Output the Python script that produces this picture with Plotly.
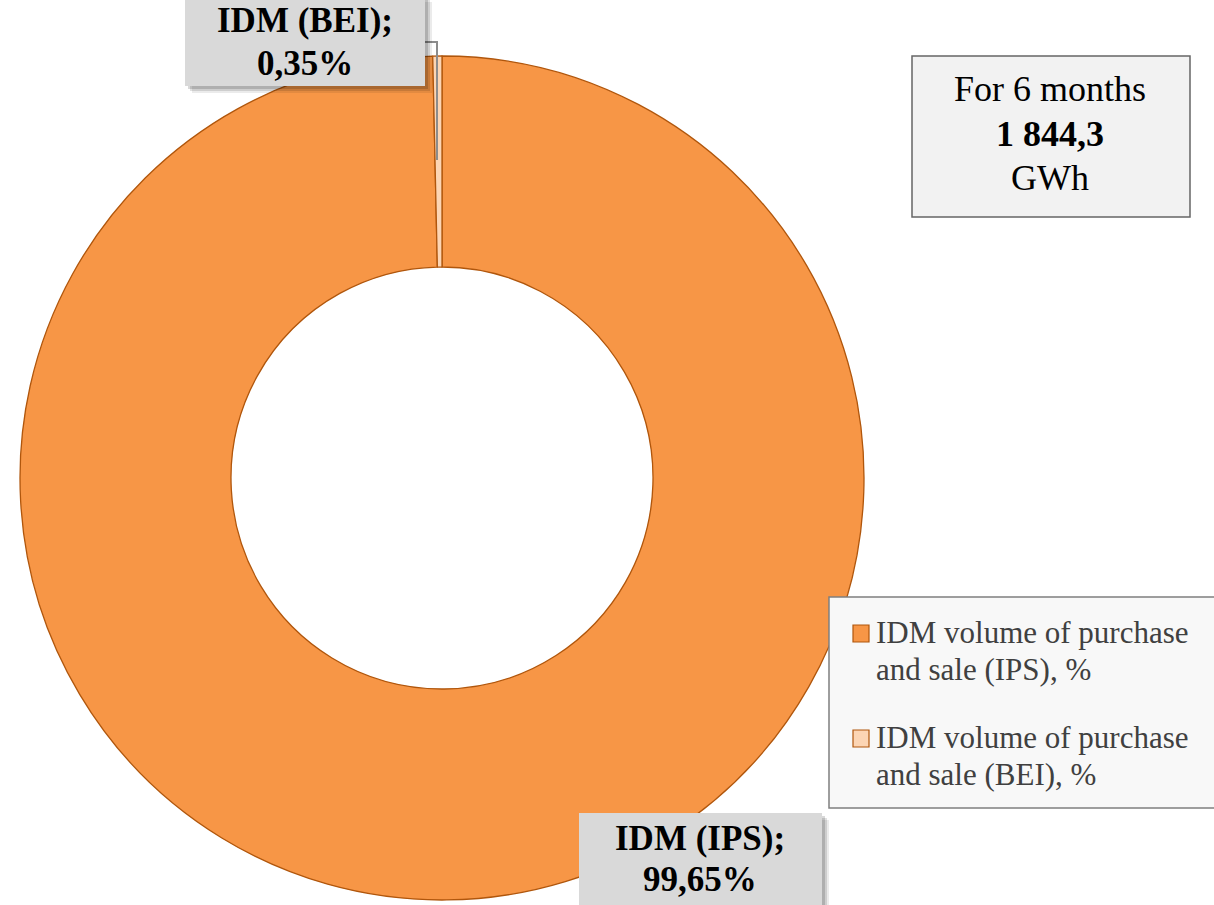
import plotly.graph_objects as go

W, H = 1214, 905

# ---- data ----
labels = ["IDM volume of purchase and sale (IPS), %", "IDM volume of purchase and sale (BEI), %"]
legend_lines = [["IDM volume of purchase", "and sale (IPS), %"], ["IDM volume of purchase", "and sale (BEI), %"]]
short_names = ["IDM (IPS)", "IDM (BEI)"]
values = [99.65, 0.35]
value_text = ["99,65%", "0,35%"]
total_title = "For 6 months"
total_value = "1 844,3"
total_unit = "GWh"

colors = ["#F79646", "#FCD5B4"]
edge = "#B0560C"
FONT = "Liberation Serif, Times New Roman, serif"

def px(x):
    return x / W

def py(y):
    return 1 - y / H

cx, cy, r = 442, 478, 422

fig = go.Figure(go.Pie(
    labels=labels, values=values, sort=False, direction="clockwise", rotation=0,
    hole=0.5, textinfo="none", showlegend=False,
    marker=dict(colors=colors, line=dict(color=edge, width=1.3)),
    domain=dict(x=[px(cx - r), px(cx + r)], y=[py(cy + r), py(cy - r)]),
))

shapes = []
annotations = []

def box(x0, y0, x1, y1, fill, line=None, shadow=False):
    if shadow:
        for k, a in ((7, 0.08), (5, 0.12), (3, 0.15)):
            shapes.append(dict(type="rect", xref="paper", yref="paper",
                               x0=px(x0 + k), x1=px(x1 + k), y0=py(y1 + k), y1=py(y0 + k),
                               fillcolor=f"rgba(0,0,0,{a})", line=dict(width=0), layer="above"))
    shapes.append(dict(type="rect", xref="paper", yref="paper",
                       x0=px(x0), x1=px(x1), y0=py(y1), y1=py(y0),
                       fillcolor=fill,
                       line=dict(color=line or fill, width=1.5 if line else 0), layer="above"))

def text(x, y, s, size, color="#000000", xanchor="center"):
    annotations.append(dict(x=px(x), y=py(y), xref="paper", yref="paper", showarrow=False,
                            xanchor=xanchor, yanchor="middle", text=s,
                            font=dict(family=FONT, size=size, color=color)))

# leader line for the small slice
shapes.append(dict(type="path", xref="paper", yref="paper",
                   path=f"M {px(425)},{py(42)} L {px(437)},{py(42)} L {px(437)},{py(160)}",
                   line=dict(color="#8C8C8C", width=2), layer="above"))

# data labels
box(185, -5, 425, 86, "#D9D9D9", shadow=True)
text(305, 21, f"<b>{short_names[1]};</b>", 35)
text(305, 63, f"<b>{value_text[1]}</b>", 35)
box(579, 813, 822, 915, "#D9D9D9", shadow=True)
text(700, 838, f"<b>{short_names[0]};</b>", 35)
text(700, 879, f"<b>{value_text[0]}</b>", 35)

# total box
box(912, 56, 1190, 217, "#F2F2F2", line="#666666")
text(1050, 89, total_title, 36)
text(1050, 134, f"<b>{total_value}</b>", 36)
text(1050, 178, total_unit, 36)

# legend
box(829, 597, 1222, 808, "#F8F8F8", line="#7F7F7F")
for i, (lines, col) in enumerate(zip(legend_lines, colors)):
    base = 643 + i * 105
    shapes.append(dict(type="rect", xref="paper", yref="paper",
                       x0=px(853), x1=px(869), y0=py(base - 1), y1=py(base - 18),
                       fillcolor=col, line=dict(color=edge, width=1.2), layer="above"))
    for j, ln in enumerate(lines):
        text(874, base - 11 + j * 37, ln, 31, color="#404040", xanchor="left")

fig.update_layout(
    width=W, height=H, margin=dict(l=0, r=0, t=0, b=0),
    paper_bgcolor="#FFFFFF", plot_bgcolor="#FFFFFF",
    shapes=shapes, annotations=annotations,
)

fig.write_html("out.html", config={"displayModeBar": False},
               post_script="document.body.style.margin='0';")
